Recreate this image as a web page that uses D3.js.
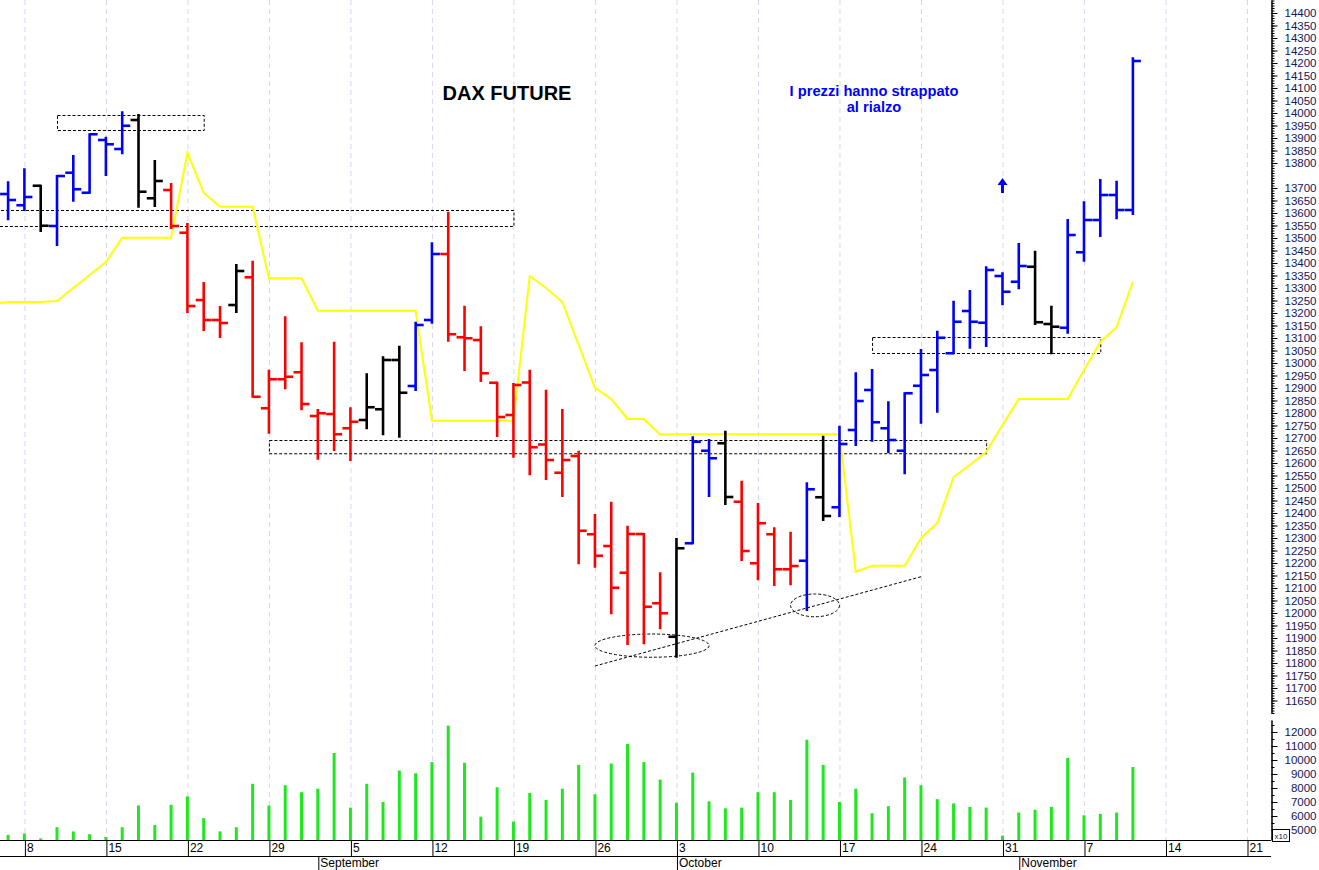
<!DOCTYPE html>
<html><head><meta charset="utf-8">
<script src="https://cdn.jsdelivr.net/npm/d3@7"></script>
<style>
body{margin:0;background:#fff;}
svg{display:block;font-family:"Liberation Sans",Arial,sans-serif;}
</style>
</head><body>
<svg id="chart" width="1319" height="870"></svg>
<script>
// ---------------- DATA ----------------
const dates = [
 "2022-08-05",
 "2022-08-08","2022-08-09","2022-08-10","2022-08-11","2022-08-12",
 "2022-08-15","2022-08-16","2022-08-17","2022-08-18","2022-08-19",
 "2022-08-22","2022-08-23","2022-08-24","2022-08-25","2022-08-26",
 "2022-08-29","2022-08-30","2022-08-31","2022-09-01","2022-09-02",
 "2022-09-05","2022-09-06","2022-09-07","2022-09-08","2022-09-09",
 "2022-09-12","2022-09-13","2022-09-14","2022-09-15","2022-09-16",
 "2022-09-19","2022-09-20","2022-09-21","2022-09-22","2022-09-23",
 "2022-09-26","2022-09-27","2022-09-28","2022-09-29","2022-09-30",
 "2022-10-03","2022-10-04","2022-10-05","2022-10-06","2022-10-07",
 "2022-10-10","2022-10-11","2022-10-12","2022-10-13","2022-10-14",
 "2022-10-17","2022-10-18","2022-10-19","2022-10-20","2022-10-21",
 "2022-10-24","2022-10-25","2022-10-26","2022-10-27","2022-10-28",
 "2022-10-31","2022-11-01","2022-11-02","2022-11-03","2022-11-04",
 "2022-11-07","2022-11-08","2022-11-09","2022-11-10"
];
const open = [
 13676,
 13631,13709,13548,13761,13681,
 13892,13856,13972,13659,13692,
 13521,13252,13172,13232,13343,
 12819,12935,12963,12788,12796,
 12739,12772,12815,13012,12908,
 13172,13436,13103,13092,12921,
 12792,12922,12674,12561,12628,
 12315,12268,12161,12316,12039,
 11905,12279,12649,12679,12445,
 12199,12315,12175,12209,12463,
 12423,12732,12892,12739,12649,
 12909,12972,13039,13208,13161,
 13348,13325,13385,13156,13141,
 13443,13572,13672,13612
];
const high = [
 13723,
 13775,13709,13748,13828,13915,
 13901,14003,13992,13808,13716,
 13556,13320,13224,13392,13405,
 12969,13183,13079,12812,13081,
 12819,12955,13023,13065,13161,
 13479,13601,13225,13143,12921,
 12916,12969,12889,12812,12645,
 12392,12441,12345,12316,12159,
 12296,12703,12692,12725,12525,
 12436,12339,12321,12519,12705,
 12745,12959,12972,12843,12879,
 13052,13125,13245,13288,13383,
 13359,13476,13445,13225,13572,
 13643,13732,13725,14219
];
const low = [
 13575,
 13612,13528,13472,13649,13681,
 13752,13839,13625,13628,13540,
 13204,13132,13104,13204,12865,
 12721,12899,12815,12617,12652,
 12612,12739,12715,12705,12892,
 13161,13089,12972,12928,12708,
 12625,12555,12536,12468,12199,
 12185,11999,11876,11879,11939,
 11825,12279,12468,12436,12212,
 12135,12112,12115,12012,12372,
 12388,12672,12689,12643,12559,
 12761,12805,13039,13061,13068,
 13235,13299,13156,13039,13121,
 13409,13508,13579,13596
];
const close = [
 13652,
 13664,13549,13748,13695,13915,
 13875,13949,13685,13728,13548,
 13228,13172,13160,13368,12865,
 12935,12945,12836,12799,12715,
 12765,12823,13012,12881,13152,
 13436,13115,13099,12959,12784,
 12912,12663,12612,12612,12329,
 12229,12101,12316,12025,11999,
 12259,12685,12619,12464,12248,
 12359,12175,12188,12495,12388,
 12676,12848,12763,12692,12879,
 12952,13101,13165,13165,13372,
 13285,13388,13163,13145,13512,
 13572,13672,13612,14208
];
// bar colouring signal: 1 = up (blue), -1 = down (red), 0 = neutral (black)
const signal = [
 1,
 1,0,1,1,1,
 1,1,0,0,-1,
 -1,-1,-1,0,-1,
 -1,-1,-1,-1,-1,
 -1,0,0,0,1,
 1,-1,-1,-1,-1,
 -1,-1,-1,-1,-1,
 -1,-1,-1,-1,-1,
 0,1,1,0,-1,
 -1,-1,-1,1,0,
 1,1,1,1,1,
 1,1,1,1,1,
 1,1,0,0,1,
 1,1,1,1
];
const volume = [
 4650,
 4750,4400,5200,4900,4700,
 4500,5200,6750,5350,6800,
 7400,5850,4900,5200,8300,
 6750,8200,7700,7950,10500,
 6600,8300,7000,9250,9050,
 9850,12450,9800,5950,8050,
 5600,7650,7150,7950,9650,
 7550,9750,11150,9850,8600,
 6950,9100,7050,6550,6600,
 7700,7700,7150,11450,9650,
 7000,7950,6200,6700,8750,
 8200,7200,6900,6650,6600,
 4600,6250,6450,6650,10150,
 6050,6150,6250,9500
];
// yellow stop line
const stopLeadDate = "2022-08-04";
const stopLeadValue = 13236;
const stop = [
 13244,
 13244,13244,13248,13300,13352,
 13404,13501,13501,13501,13501,
 13841,13681,13625,13625,13625,
 13339,13339,13339,13209,13209,
 13209,13209,13209,13209,13209,
 12769,12769,12769,12769,12769,
 12769,13348,13300,13244,13072,
 12901,12856,12776,12776,12714,
 12715,12715,12715,12715,12715,
 12715,12715,12715,12715,12715,
 12715,12165,12189,12189,12189,
 12299,12360,12544,12592,12644,
 12752,12856,12856,12856,12856,
 12972,13084,13143,13325
];
// axis ticks
const weekTicks = ["2022-08-08","2022-08-15","2022-08-22","2022-08-29","2022-09-05","2022-09-12","2022-09-19","2022-09-26","2022-10-03","2022-10-10","2022-10-17","2022-10-24","2022-10-31","2022-11-07","2022-11-14","2022-11-21"];
const weekLabels = ["8","15","22","29","5","12","19","26","3","10","17","24","31","7","14","21"];
const monthTicks = ["2022-09-01","2022-10-03","2022-11-01"];
const monthLabels = ["September","October","November"];
const priceLabels = [11650,11700,11750,11800,11850,11900,11950,12000,12050,12100,12150,12200,12250,12300,12350,12400,12450,12500,12550,12600,12650,12700,12750,12800,12850,12900,12950,13000,13050,13100,13150,13200,13250,13300,13350,13400,13450,13500,13550,13600,13650,13700,13800,13850,13900,13950,14000,14050,14100,14150,14200,14250,14300,14350,14400];
const volumeLabels = [5000,6000,7000,8000,9000,10000,11000,12000];
// annotation zones (dashed boxes): [startDate, endDate, lowPrice, highPrice]
const zoneStart = ["2022-08-10","2022-08-03","2022-08-29","2022-10-19"];
const zoneEnd   = ["2022-08-23","2022-09-19","2022-10-28","2022-11-08"];
const zoneLow   = [13932,13548,12639,13039];
const zoneHigh  = [13992,13612,12692,13103];
// dashed ellipses: date span and price span
const ellStart = ["2022-09-26","2022-10-12"];
const ellEnd   = ["2022-10-05","2022-10-17"];
const ellLow   = [11823,11985];
const ellHigh  = [11916,12076];
// dashed support trend line
const trendDates = ["2022-09-26","2022-10-24"];
const trendPrices = [11788,12145];
// arrow
const arrowDate = "2022-10-31";
const arrowPrice = 13708;

// ---------------- SCALES ----------------
function tIndex(s){
  const d = Date.parse(s+"T00:00:00Z");
  const base = Date.UTC(2022,7,8);
  const days = Math.round((d-base)/864e5);
  const w = Math.floor(days/7);
  const r = days - 7*w;
  return w*5 + Math.min(r,5);
}
const W = 1271, priceBottom = 713, volTop = 720, volBottom = 840;
const x = d3.scaleLinear().domain([0,75]).range([24.4,1247]);
const xd = s => x(tIndex(s));
const y = d3.scaleLinear().domain([11600,14452]).range([priceBottom,0]);
const yv = d3.scaleLinear().domain([4286,12857]).range([volBottom,volTop]);
const colour = d3.scaleOrdinal().domain([1,-1,0]).range(["#0000ff","#ff0000","#000000"]);

const svg = d3.select("#chart");
svg.append("rect").attr("width",1319).attr("height",870).attr("fill","#fff");
const defs = svg.append("defs");
defs.append("clipPath").attr("id","clipP").append("rect").attr("x",0).attr("y",0).attr("width",W).attr("height",priceBottom);

// grid
svg.append("g").selectAll("line").data(weekTicks).join("line")
  .attr("x1",d=>xd(d)+0.5).attr("x2",d=>xd(d)+0.5)
  .attr("y1",0).attr("y2",volBottom)
  .attr("stroke","#d6d6f2").attr("stroke-width",1).attr("stroke-dasharray","5,4");

// volume bars
svg.append("g").selectAll("line").data(volume).join("line")
  .attr("x1",(d,i)=>xd(dates[i])).attr("x2",(d,i)=>xd(dates[i]))
  .attr("y1",volBottom).attr("y2",d=>yv(d))
  .attr("stroke","#1ee81e").attr("stroke-width",3);

const gp = svg.append("g").attr("clip-path","url(#clipP)");

// zones
gp.append("g").selectAll("rect").data(zoneStart).join("rect")
  .attr("x",(d,i)=>xd(d)+0.5).attr("width",(d,i)=>xd(zoneEnd[i])-xd(d))
  .attr("y",(d,i)=>Math.round(y(zoneHigh[i]))+0.5)
  .attr("height",(d,i)=>y(zoneLow[i])-y(zoneHigh[i]))
  .attr("fill","none").attr("stroke","#000").attr("stroke-width",1).attr("stroke-dasharray","3,2");

// ellipses
gp.append("g").selectAll("ellipse").data(ellStart).join("ellipse")
  .attr("cx",(d,i)=>(xd(d)+xd(ellEnd[i]))/2)
  .attr("cy",(d,i)=>(y(ellLow[i])+y(ellHigh[i]))/2)
  .attr("rx",(d,i)=>(xd(ellEnd[i])-xd(d))/2)
  .attr("ry",(d,i)=>(y(ellLow[i])-y(ellHigh[i]))/2)
  .attr("fill","none").attr("stroke","#000").attr("stroke-width",1).attr("stroke-dasharray","3,2");

// trend line
gp.append("line")
  .attr("x1",xd(trendDates[0])).attr("y1",y(trendPrices[0]))
  .attr("x2",xd(trendDates[1])).attr("y2",y(trendPrices[1]))
  .attr("stroke","#000").attr("stroke-width",1).attr("stroke-dasharray","3,2");

// yellow stop line
const stopPts = [[xd(stopLeadDate), y(stopLeadValue)]].concat(stop.map((v,i)=>[xd(dates[i]), y(v)]));
gp.append("path").attr("d",d3.line()(stopPts))
  .attr("fill","none").attr("stroke","#ffff00").attr("stroke-width",2);

// OHLC bars
const bars = gp.append("g").selectAll("g").data(dates).join("g")
  .attr("stroke",(d,i)=>colour(signal[i])).attr("stroke-width",2.6);
bars.append("line").attr("x1",d=>xd(d)).attr("x2",d=>xd(d))
  .attr("y1",(d,i)=>y(high[i])-1).attr("y2",(d,i)=>y(low[i])+1);
bars.append("line").attr("x1",d=>xd(d)-8).attr("x2",d=>xd(d))
  .attr("y1",(d,i)=>y(open[i])).attr("y2",(d,i)=>y(open[i]));
bars.append("line").attr("x1",d=>xd(d)).attr("x2",d=>xd(d)+8)
  .attr("y1",(d,i)=>y(close[i])).attr("y2",(d,i)=>y(close[i]));

// arrow
const ax = xd(arrowDate), ay = y(arrowPrice);
svg.append("path")
  .attr("d",`M${ax},${ay-8} L${ax+5},${ay-1} L${ax+1.5},${ay-1} L${ax+1.5},${ay+7} L${ax-1.5},${ay+7} L${ax-1.5},${ay-1} L${ax-5},${ay-1} Z`)
  .attr("fill","#0000ff");

// texts
svg.append("text").attr("x",507).attr("y",100).attr("text-anchor","middle")
  .attr("font-size",20).attr("font-weight","bold").attr("fill","#000").text("DAX FUTURE");
svg.append("text").attr("x",874).attr("y",96).attr("text-anchor","middle")
  .attr("font-size",14.7).attr("font-weight","bold").attr("fill","#0000ff").text("I prezzi hanno strappato");
svg.append("text").attr("x",874).attr("y",111.5).attr("text-anchor","middle")
  .attr("font-size",14.7).attr("font-weight","bold").attr("fill","#0000ff").text("al rialzo");

// right price axis
const axisCol = "#14145a";
const minorP = d3.range(11600,14451,10);
const gPA = svg.append("g").attr("transform",`translate(${W+0.5},0)`);
gPA.call(d3.axisRight(y).tickValues(minorP).tickSize(3).tickFormat("").tickSizeOuter(0));
gPA.append("g").call(d3.axisRight(y).tickValues(priceLabels).tickSize(6).tickPadding(6).tickFormat(d3.format("d")).tickSizeOuter(0));
gPA.selectAll("path.domain").attr("stroke","#000");
gPA.selectAll("line").attr("stroke","#000");
gPA.selectAll("text").attr("font-size",11.5).attr("fill",axisCol).attr("font-family","Liberation Sans, Arial, sans-serif")
  .attr("text-anchor","end").attr("x",45);

// volume axis
const minorV = d3.range(4500,12501,500);
const gVA = svg.append("g").attr("transform",`translate(${W+0.5},0)`);
gVA.call(d3.axisRight(yv).tickValues(minorV).tickSize(3).tickFormat("").tickSizeOuter(0));
gVA.append("g").call(d3.axisRight(yv).tickValues(volumeLabels).tickSize(6).tickPadding(6).tickFormat(d3.format("d")).tickSizeOuter(0));
gVA.selectAll("path.domain").attr("stroke","#000");
gVA.selectAll("line").attr("stroke","#000");
gVA.selectAll("text").attr("font-size",11.5).attr("fill",axisCol).attr("font-family","Liberation Sans, Arial, sans-serif")
  .attr("text-anchor","end").attr("x",45);
// x10 box
svg.append("rect").attr("x",W+1.5).attr("y",829.5).attr("width",17).attr("height",12).attr("fill","#fff").attr("stroke","#000").attr("stroke-width",1);
svg.append("text").attr("x",W+10).attr("y",839).attr("text-anchor","middle").attr("font-size",8).attr("fill",axisCol).text("x10");

// bottom axis
svg.append("line").attr("x1",0).attr("x2",W).attr("y1",840.5).attr("y2",840.5).attr("stroke","#000");
svg.append("line").attr("x1",0).attr("x2",W).attr("y1",856.5).attr("y2",856.5).attr("stroke","#000");
const gX = svg.append("g").attr("transform","translate(0,841)");
gX.call(d3.axisBottom(d3.scaleLinear().domain(x.domain()).range(x.range()))
  .tickValues(weekTicks.map(tIndex)).tickSize(15).tickSizeOuter(0)
  .tickFormat((d,i)=>weekLabels[i]));
gX.select("path.domain").remove();
gX.selectAll("line").attr("stroke","#000").attr("transform","translate(0.5,0)");
gX.selectAll("text").attr("text-anchor","start").attr("x",2).attr("y",2).attr("dy","0.75em")
  .attr("font-size",12).attr("fill","#000").attr("font-family","Liberation Sans, Arial, sans-serif");
const gM = svg.append("g").attr("transform","translate(0,857)");
gM.call(d3.axisBottom(d3.scaleLinear().domain(x.domain()).range(x.range()))
  .tickValues(monthTicks.map(tIndex)).tickSize(13).tickSizeOuter(0)
  .tickFormat((d,i)=>monthLabels[i]));
gM.select("path.domain").remove();
gM.selectAll("line").attr("stroke","#000").attr("transform","translate(0.5,0)");
gM.selectAll("text").attr("text-anchor","start").attr("x",2).attr("y",1).attr("dy","0.75em")
  .attr("font-size",12).attr("fill","#000").attr("font-family","Liberation Sans, Arial, sans-serif");
</script>
</body></html>
